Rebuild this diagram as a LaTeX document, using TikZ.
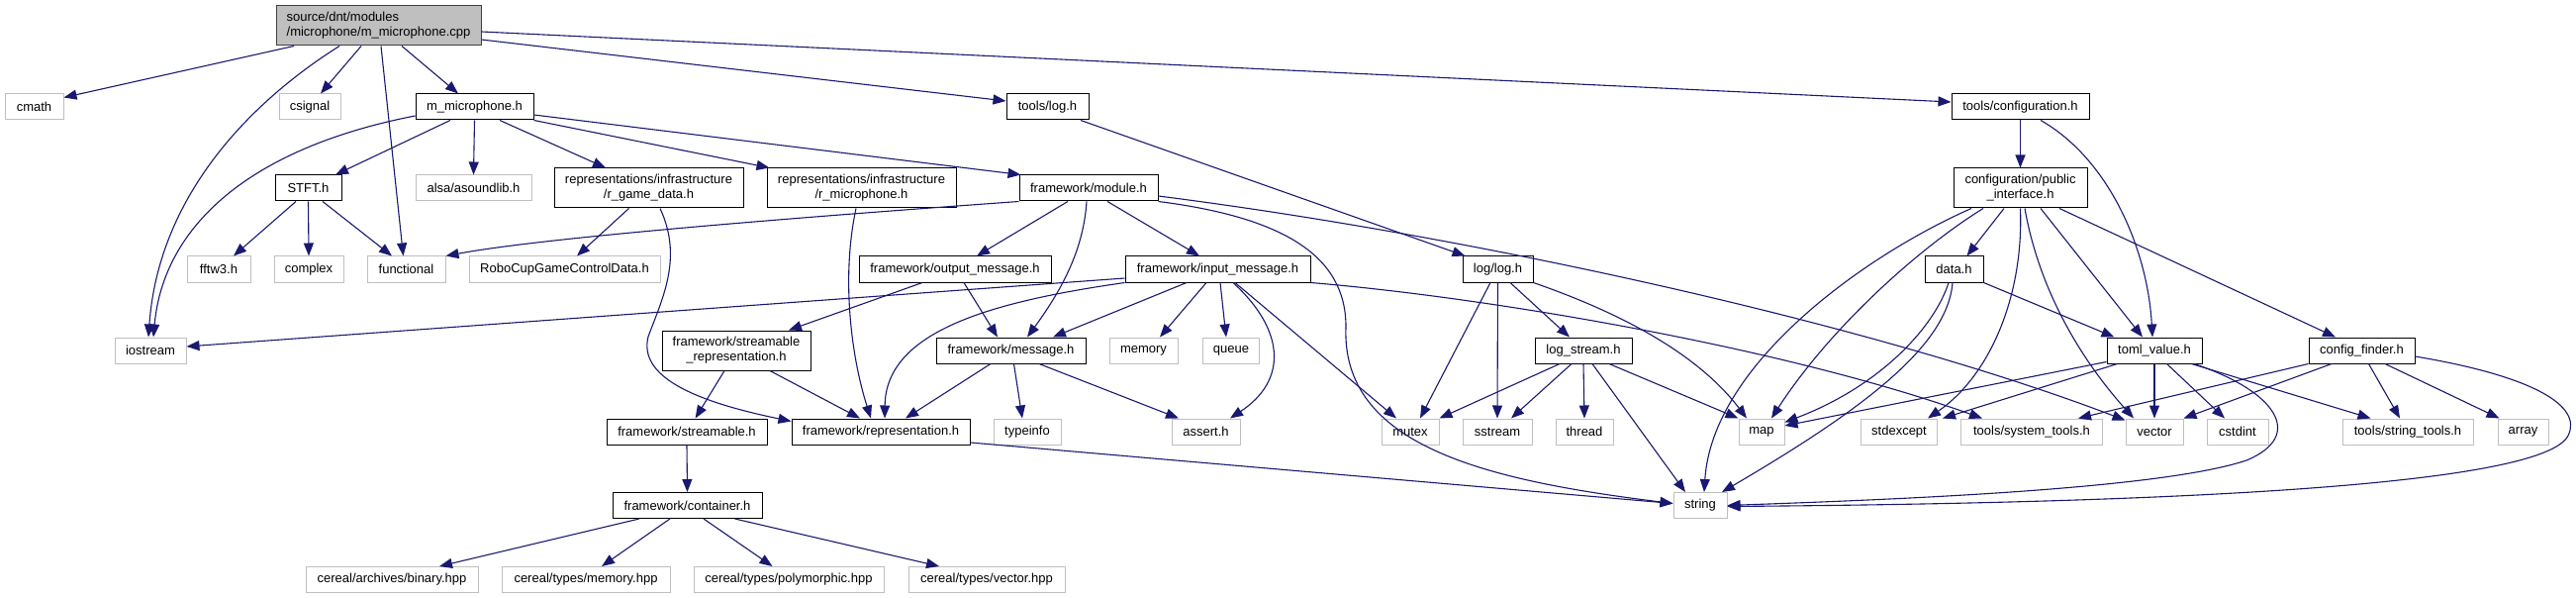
\documentclass[tikz,border=0pt]{standalone}
\usepackage{fontspec}
\setmainfont{Liberation Sans}
\usetikzlibrary{arrows.meta}
\definecolor{edgec}{HTML}{191970}
\definecolor{extc}{HTML}{BFBFBF}
\definecolor{mainfill}{HTML}{BFBFBF}
\definecolor{mainbd}{HTML}{404040}
\newcommand{\nodefs}{\fontsize{13}{15}\selectfont}
\tikzset{
  basenode/.style={rectangle, inner sep=0pt, minimum height=26pt, font=\nodefs, line width=1pt, text=black},
  doc/.style={basenode, draw=black, fill=white},
  ext/.style={basenode, draw=extc, fill=white},
  twoline/.style={minimum height=40pt, align=center},
  mainn/.style={basenode, draw=mainbd, fill=mainfill, minimum height=40pt, align=left},
  e/.style={draw=edgec, line width=1.1pt, -{Triangle[length=13pt,width=10pt]}},
}
\begin{document}
\begin{tikzpicture}[x=1pt,y=-1pt]
\useasboundingbox (0,0) rectangle (2603,604);
\fill[white] (0,0) rectangle (2603,604);

% row 1
\node[mainn, minimum width=207pt] (main) at (382.5,26) {source/dnt/modules\\/microphone/m\_microphone.cpp};
% row 2
\node[ext, minimum width=59pt] (cmath) at (34.5,108) {cmath};
\node[ext, minimum width=62pt] (csignal) at (313,108) {csignal};
\node[doc, minimum width=119pt] (mmic) at (479.5,108) {m\_microphone.h};
\node[doc, minimum width=83pt] (logh) at (1058.5,108) {tools/log.h};
\node[doc, minimum width=139pt] (config) at (2041.5,108) {tools/configuration.h};
% row 3
\node[doc, minimum width=67pt] (stft) at (311.5,190) {STFT.h};
\node[ext, minimum width=117pt] (alsa) at (478.5,190) {alsa/asoundlib.h};
\node[doc, twoline, minimum width=191pt] (rgame) at (655.5,190) {representations/infrastructure\\/r\_game\_data.h};
\node[doc, twoline, minimum width=191pt] (rmic) at (870.5,190) {representations/infrastructure\\/r\_microphone.h};
\node[doc, minimum width=140pt] (module) at (1100,190) {framework/module.h};
\node[doc, twoline, minimum width=135pt] (pubif) at (2041.5,190) {configuration/public\\\_interface.h};
% row 4
\node[ext, minimum width=64pt] (fftw) at (221,272) {fftw3.h};
\node[ext, minimum width=70pt] (complex) at (312,272) {complex};
\node[ext, minimum width=79pt] (functional) at (410.5,272) {functional};
\node[ext, minimum width=193pt] (robocup) at (570.5,272) {RoboCupGameControlData.h};
\node[doc, minimum width=194pt] (outmsg) at (965,272) {framework/output\_message.h};
\node[doc, minimum width=187pt] (inmsg) at (1230.5,272) {framework/input\_message.h};
\node[doc, minimum width=71pt] (loglog) at (1513.5,272) {log/log.h};
\node[doc, minimum width=59pt] (datah) at (1974.5,272) {data.h};
% row 5
\node[ext, minimum width=72pt] (iostream) at (152,354) {iostream};
\node[doc, twoline, minimum width=150pt] (streprep) at (744,354) {framework/streamable\\\_representation.h};
\node[doc, minimum width=151pt] (message) at (1021.5,354) {framework/message.h};
\node[ext, minimum width=69pt] (memory) at (1155.5,354) {memory};
\node[ext, minimum width=57pt] (queue) at (1244,354) {queue};
\node[doc, minimum width=98pt] (logstream) at (1600,354) {log\_stream.h};
\node[doc, minimum width=96pt] (toml) at (2177,354) {toml\_value.h};
\node[doc, minimum width=107pt] (cfinder) at (2386.5,354) {config\_finder.h};
% row 6
\node[doc, minimum width=162pt] (streamable) at (694,436) {framework/streamable.h};
\node[doc, minimum width=180pt] (repr) at (890,436) {framework/representation.h};
\node[ext, minimum width=68pt] (typeinfo) at (1038,436) {typeinfo};
\node[ext, minimum width=69pt] (assert) at (1218.5,436) {assert.h};
\node[ext, minimum width=58pt] (mutex) at (1425,436) {mutex};
\node[ext, minimum width=70pt] (sstream) at (1513,436) {sstream};
\node[ext, minimum width=58pt] (thread) at (1601,436) {thread};
\node[ext, minimum width=46pt] (map) at (1780,436) {map};
\node[ext, minimum width=77pt] (stdexcept) at (1919,436) {stdexcept};
\node[ext, minimum width=143pt] (systools) at (2053,436) {tools/system\_tools.h};
\node[ext, minimum width=58pt] (vector) at (2177,436) {vector};
\node[ext, minimum width=62pt] (cstdint) at (2261,436) {cstdint};
\node[ext, minimum width=132pt] (strtools) at (2433,436) {tools/string\_tools.h};
\node[ext, minimum width=51pt] (array) at (2549.5,436) {array};
% row 7
\node[doc, minimum width=151pt] (container) at (694.5,510.5) {framework/container.h};
\node[ext, minimum width=54pt] (string) at (1718,510.5) {string};
% row 8
\node[ext, minimum width=174pt] (binary) at (396,585.5) {cereal/archives/binary.hpp};
\node[ext, minimum width=170pt] (cmemory) at (592,585.5) {cereal/types/memory.hpp};
\node[ext, minimum width=192pt] (poly) at (797,585.5) {cereal/types/polymorphic.hpp};
\node[ext, minimum width=158pt] (cvector) at (997,585.5) {cereal/types/vector.hpp};

% edges from main
\draw[e] ([xshift=-85.5pt]main.south) -- ([yshift=-4pt]cmath.north east);
\draw[e] ([xshift=-17.5pt]main.south) -- ([xshift=11pt]csignal.north);
\draw[e] ([xshift=-39.5pt]main.south) .. controls (250,105) and (160,200) .. ([xshift=-2pt]iostream.north);
\draw[e] ([xshift=2.5pt]main.south) -- ([xshift=-3pt]functional.north);
\draw[e] ([xshift=23.5pt]main.south) -- ([xshift=-16.5pt]mmic.north);
\draw[e] ([yshift=-14pt]main.east) -- ([yshift=6pt]logh.west);
\draw[e] ([yshift=-6pt]main.east) -- ([yshift=5pt]config.west);
% m_microphone.h
\draw[e] ([yshift=-9pt]mmic.west) .. controls (250,150) and (165,230) .. ([xshift=3pt]iostream.north);
\draw[e] ([xshift=-24.5pt]mmic.south) -- ([xshift=27.5pt]stft.north);
\draw[e] (mmic.south) -- (alsa.north);
\draw[e] ([xshift=25.5pt]mmic.south) -- ([xshift=-43.5pt]rgame.north);
\draw[e] (mmic.south east) -- ([xshift=3pt]rmic.north west);
\draw[e] ([yshift=-8pt]mmic.east) -- ([xshift=2pt]module.north west);
% STFT.h
\draw[e] ([xshift=-12.5pt]stft.south) -- ([xshift=15pt]fftw.north);
\draw[e] (stft.south) -- (complex.north);
\draw[e] ([xshift=14.5pt]stft.south) -- ([xshift=-14.5pt]functional.north);
% representations
\draw[e] ([xshift=-20pt]rgame.south) -- ([xshift=12.5pt]robocup.north);
\draw[e] ([xshift=11.5pt]rgame.south) .. controls (690,260) and (670,300) .. (655,340) .. controls (645,380) and (700,405) .. ([yshift=-3pt]repr.north west);
\draw[e] ([xshift=-5.5pt]rmic.south) .. controls (850,280) and (860,360) .. ([xshift=-10pt]repr.north);
% module.h
\draw[e] (module.south west) .. controls (800,220) and (550,240) .. (functional.north east);
\draw[e] ([xshift=-21pt]module.south) -- ([xshift=22pt]outmsg.north);
\draw[e] ([xshift=19pt]module.south) -- ([xshift=-18.5pt]inmsg.north);
\draw[e] ([xshift=-2pt]module.south) .. controls (1095,250) and (1075,290) .. ([xshift=16.5pt]message.north);
\draw[e] (module.south east) .. controls (1300,220) and (1360,260) .. (1360,330) .. controls (1355,450) and (1500,485) .. ([yshift=2pt]string.west);
\draw[e] ([yshift=-8pt]module.east) .. controls (1500,240) and (1900,330) .. ([yshift=-2pt]vector.north west);
% output_message.h
\draw[e] ([xshift=-33pt]outmsg.south) -- ([xshift=53pt]streprep.north);
\draw[e] ([xshift=9pt]outmsg.south) -- ([xshift=-13.5pt]message.north);
% input_message.h
\draw[e] ([yshift=-9pt]inmsg.west) -- ([yshift=4pt]iostream.east);
\draw[e] (inmsg.south west) .. controls (1000,305) and (895,335) .. ([xshift=4pt]repr.north);
\draw[e] ([xshift=-31.5pt]inmsg.south) -- ([xshift=42.5pt]message.north);
\draw[e] ([xshift=-11.5pt]inmsg.south) -- ([xshift=16.5pt]memory.north);
\draw[e] ([xshift=2.5pt]inmsg.south) -- ([xshift=-5pt]queue.north);
\draw[e] ([xshift=15.5pt]inmsg.south) .. controls (1300,335) and (1300,385) .. ([xshift=24.5pt]assert.north);
\draw[e] ([xshift=17.5pt]inmsg.south) -- ([xshift=-14pt]mutex.north);
\draw[e] (inmsg.south east) .. controls (1500,300) and (1800,350) .. ([xshift=-50pt]systools.north);
% message.h
\draw[e] ([xshift=-20.5pt]message.south) -- ([xshift=25pt]repr.north);
\draw[e] ([xshift=3pt]message.south) -- ([xshift=-5pt]typeinfo.north);
\draw[e] ([xshift=28.5pt]message.south) -- ([xshift=-27.5pt]assert.north);
% streamable
\draw[e] ([xshift=-12pt]streprep.south) -- ([xshift=8.6pt]streamable.north);
\draw[e] ([xshift=34pt]streprep.south) -- ([xshift=-21pt]repr.north);
\draw[e] (streamable.south) -- (container.north);
\draw[e] ([xshift=-48.5pt]container.south) -- ([xshift=48pt]binary.north);
\draw[e] ([xshift=-17.5pt]container.south) -- ([xshift=16pt]cmemory.north);
\draw[e] ([xshift=16.5pt]container.south) -- ([xshift=-16.5pt]poly.north);
\draw[e] ([xshift=48pt]container.south) -- ([xshift=-48pt]cvector.north);
\draw[e] ([yshift=-11pt]repr.east) -- ([yshift=2pt]string.west);
% log
\draw[e] ([xshift=33.5pt]logh.south) -- ([xshift=3pt]loglog.north west);
\draw[e] ([xshift=-7.5pt]loglog.south) -- ([xshift=10pt]mutex.north);
\draw[e] (loglog.south) -- (sstream.north);
\draw[e] ([xshift=12.5pt]loglog.south) -- ([xshift=-14pt]logstream.north);
\draw[e] (loglog.south east) .. controls (1620,310) and (1710,350) .. ([xshift=-15pt]map.north);
\draw[e] ([xshift=-24pt]logstream.south) -- (mutex.north east);
\draw[e] ([xshift=-12pt]logstream.south) -- ([xshift=14pt]sstream.north);
\draw[e] (logstream.south) -- (thread.north);
\draw[e] ([xshift=9pt]logstream.south) -- ([xshift=-15pt]string.north);
\draw[e] ([xshift=26pt]logstream.south) -- (map.north west);
% configuration
\draw[e] (config.south) -- (pubif.north);
\draw[e] ([xshift=20.5pt]config.south) .. controls (2130,160) and (2170,250) .. ([xshift=-2pt]toml.north);
\draw[e] ([xshift=-16.5pt]pubif.south) -- ([xshift=13pt]datah.north);
\draw[e] ([xshift=-37.5pt]pubif.south) .. controls (1940,250) and (1850,330) .. ([xshift=10pt]map.north);
\draw[e] ([xshift=-49.5pt]pubif.south) .. controls (1880,260) and (1730,370) .. ([xshift=4pt]string.north);
\draw[e] ([xshift=20.5pt]pubif.south) -- ([xshift=-12pt]toml.north);
\draw[e] ([xshift=4.5pt]pubif.south) .. controls (2060,290) and (2100,360) .. ([xshift=-21pt]vector.north);
\draw[e] (pubif.south) .. controls (2045,300) and (2010,380) .. ([xshift=-10pt]stdexcept.north east);
\draw[e] ([xshift=39.5pt]pubif.south) -- ([xshift=-26.5pt]cfinder.north);
\draw[e] (datah.south east) -- ([xshift=8pt]toml.north west);
\draw[e] ([xshift=-5.5pt]datah.south) .. controls (1955,330) and (1900,390) .. ([yshift=-4pt]map.north east);
\draw[e] ([xshift=-1.5pt]datah.south) .. controls (1968,350) and (1880,415) .. ([xshift=22pt]string.north);
% toml_value.h
\draw[e] ([yshift=2pt]toml.south west) -- ([yshift=6pt]map.east);
\draw[e] ([xshift=-37.5pt]toml.south) -- ([xshift=5pt]stdexcept.north east);
\draw[e] (toml.south) -- (vector.north);
\draw[e] ([xshift=12.5pt]toml.south) -- ([xshift=-13pt]cstdint.north);
\draw[e] ([xshift=37.5pt]toml.south) -- ([xshift=-37.5pt]strtools.north);
\draw[e] ([xshift=40pt]toml.south) .. controls (2300,395) and (2330,440) .. (2270,465) .. controls (2180,495) and (1900,505) .. (string.east);
% config_finder.h
\draw[e] (cfinder.south west) -- ([xshift=47pt]systools.north);
\draw[e] ([xshift=-30.5pt]cfinder.south) -- (vector.north east);
\draw[e] ([xshift=7pt]cfinder.south) -- ([xshift=-8pt]strtools.north);
\draw[e] ([xshift=23.5pt]cfinder.south) -- ([xshift=2pt]array.north west);
\draw[e] ([yshift=-6pt]cfinder.east) .. controls (2560,380) and (2610,410) .. (2595,440) .. controls (2570,490) and (2200,508) .. ([yshift=-1pt]string.east);
\end{tikzpicture}
\end{document}
